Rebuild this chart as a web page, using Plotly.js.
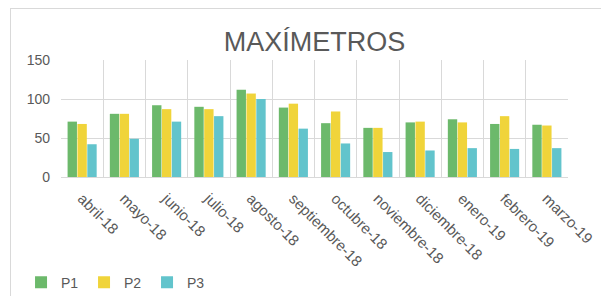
<!DOCTYPE html>
<html><head><meta charset="utf-8">
<script src="https://cdn.plot.ly/plotly-3.0.1.min.js"></script>
<style>
html,body{margin:0;padding:0;background:#fff;overflow:hidden;}
#frame{position:absolute;left:10px;top:8px;width:600px;height:300px;border:1px solid #d9d9d9;box-sizing:border-box;}
#chart{position:absolute;left:0;top:0;width:601px;height:296px;}
</style></head>
<body>
<div id="frame"></div>
<div id="chart"></div>
<script>
const categories = ["abril-18","mayo-18","junio-18","julio-18","agosto-18","septiembre-18","octubre-18","noviembre-18","diciembre-18","enero-19","febrero-19","marzo-19"];
const p1 = [71, 81, 92, 90, 112, 89, 69, 63, 70, 74, 68, 67];
const p2 = [68, 81, 87, 87, 107, 94, 84, 63, 71, 70, 78, 66];
const p3 = [42, 49, 71, 78, 100, 62, 43, 32, 34, 37, 36, 37];
const seriesNames = ["P1","P2","P3"];
const yTicks = [0, 50, 100, 150];
const colors = ["#6cb96b", "#f0d43a", "#62c4cc"];

const traces = [p1, p2, p3].map((v, i) => ({
  type: "bar", x: categories, y: v, name: seriesNames[i],
  marker: {color: colors[i]}
}));

const layout = {
  width: 601, height: 296,
  margin: {l: 61, r: 33, t: 60, b: 119},
  paper_bgcolor: "rgba(0,0,0,0)", plot_bgcolor: "#fff",
  font: {family: "Liberation Sans, Arial, sans-serif", color: "#595959"},
  title: {text: "MAXÍMETROS", font: {size: 27, color: "#595959"}, x: 0.5, xref: "paper", xanchor: "center", y: 0.86, yref: "container", yanchor: "middle"},
  bargap: 0.3, bargroupgap: 0.05,
  xaxis: {type: "category", tickangle: 45, tickson: "boundaries", showgrid: true, gridcolor: "#d9d9d9", gridwidth: 1,
          ticks: "", showline: true, linecolor: "#d9d9d9", mirror: false, ticklabelstandoff: 6,
          tickfont: {size: 15, color: "#595959"}, automargin: false},
  yaxis: {range: [0, 150], tickvals: yTicks, ticktext: yTicks.map(String), showgrid: true, gridcolor: "#d9d9d9", zeroline: false,
          showline: false, ticks: "", ticklabelstandoff: 10, tickfont: {size: 14, color: "#595959"}, automargin: false},
  showlegend: true,
  legend: {orientation: "h", x: 0.035, xref: "container", xanchor: "left", y: 0.045, yref: "container", yanchor: "middle",
           font: {size: 14, color: "#595959"}, itemwidth: 30, entrywidth: 18, entrywidthmode: "pixels", tracegroupgap: 0}
};

Plotly.newPlot("chart", traces, layout, {staticPlot: true, displayModeBar: false});
</script>
</body></html>
